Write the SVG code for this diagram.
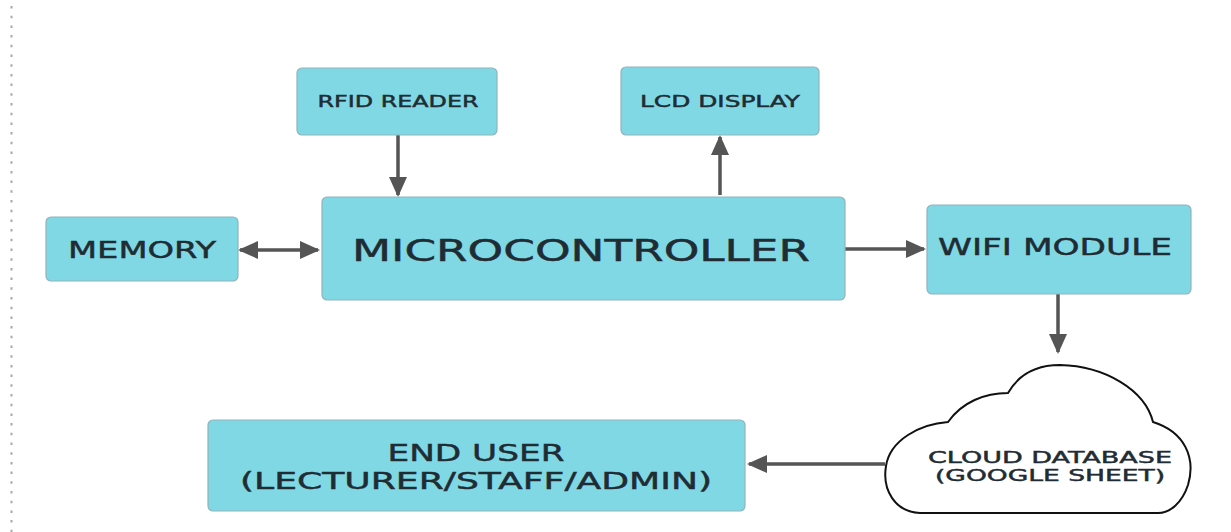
<svg xmlns="http://www.w3.org/2000/svg" width="1231" height="532" viewBox="0 0 1231 532">
  <style>
    .box { fill: #80d8e5; stroke: #8fb4bc; stroke-width: 1.2; }
    .lbl { font-family: "DejaVu Sans", "Liberation Sans", sans-serif; fill: #1f2c33; stroke: #1f2c33; stroke-width: 0.45; text-anchor: middle; }
    .wire { stroke: #555; stroke-width: 3.5; fill: none; }
    .cloud { fill: #fff; stroke: #111; stroke-width: 2; }
  </style>
  <defs>
    <marker id="head" markerUnits="userSpaceOnUse" markerWidth="20" markerHeight="20" refX="18" refY="10" orient="auto-start-reverse">
      <path d="M0,1 L20,10 L0,19 z" fill="#555"/>
    </marker>
  </defs>
  <rect width="1231" height="532" fill="#fff"/>

  <!-- page margin guide -->
  <line x1="11.5" y1="6" x2="11.5" y2="532" stroke="#a8a8a8" stroke-width="2" stroke-dasharray="2.5 7.2"/>

  <g id="connectors">
    <line class="wire" x1="398" y1="135" x2="398" y2="195" marker-end="url(#head)"/>
    <line class="wire" x1="720" y1="195" x2="720" y2="137" marker-end="url(#head)"/>
    <line class="wire" x1="240" y1="250" x2="318" y2="250" marker-start="url(#head)" marker-end="url(#head)"/>
    <line class="wire" x1="845" y1="249" x2="924" y2="249" marker-end="url(#head)"/>
    <line class="wire" x1="1058" y1="294" x2="1058" y2="352" marker-end="url(#head)"/>
    <line class="wire" x1="885" y1="464" x2="749" y2="464" marker-end="url(#head)"/>
  </g>

  <g id="rfid">
    <rect class="box" x="297" y="68" width="200" height="67" rx="5"/>
    <text class="lbl" x="398" y="107" font-size="16" textLength="161" lengthAdjust="spacingAndGlyphs">RFID READER</text>
  </g>
  <g id="lcd">
    <rect class="box" x="621" y="67" width="198" height="68" rx="5"/>
    <text class="lbl" x="720" y="107" font-size="16" textLength="160" lengthAdjust="spacingAndGlyphs">LCD DISPLAY</text>
  </g>
  <g id="memory">
    <rect class="box" x="46" y="217" width="192" height="64" rx="5"/>
    <text class="lbl" x="142" y="258" font-size="23" textLength="148" lengthAdjust="spacingAndGlyphs">MEMORY</text>
  </g>
  <g id="microcontroller">
    <rect class="box" x="322" y="197" width="523" height="103" rx="5"/>
    <text class="lbl" x="581" y="261" font-size="30" textLength="458" lengthAdjust="spacingAndGlyphs">MICROCONTROLLER</text>
  </g>
  <g id="wifi">
    <rect class="box" x="927" y="205" width="264" height="89" rx="5"/>
    <text class="lbl" x="1055" y="255" font-size="23" textLength="234" lengthAdjust="spacingAndGlyphs">WIFI MODULE</text>
  </g>
  <g id="cloud">
    <path class="cloud" d="M920,513 C895,512 882,490 886,466 C890,440 920,424 948,422 C962,402 985,393 1008,393 C1020,372 1040,365 1060,365 C1105,366 1145,390 1153,422 C1185,432 1196,458 1188,485 C1182,503 1170,513 1158,513 Z"/>
    <text class="lbl" x="1050" y="463" font-size="16" textLength="244" lengthAdjust="spacingAndGlyphs">CLOUD DATABASE</text>
    <text class="lbl" x="1050" y="481" font-size="16" textLength="230" lengthAdjust="spacingAndGlyphs">(GOOGLE SHEET)</text>
  </g>
  <g id="enduser">
    <rect class="box" x="208" y="420" width="537" height="91" rx="5"/>
    <text class="lbl" x="476" y="461" font-size="23" textLength="177" lengthAdjust="spacingAndGlyphs">END USER</text>
    <text class="lbl" x="476" y="489" font-size="23" textLength="472" lengthAdjust="spacingAndGlyphs">(LECTURER/STAFF/ADMIN)</text>
  </g>
</svg>
